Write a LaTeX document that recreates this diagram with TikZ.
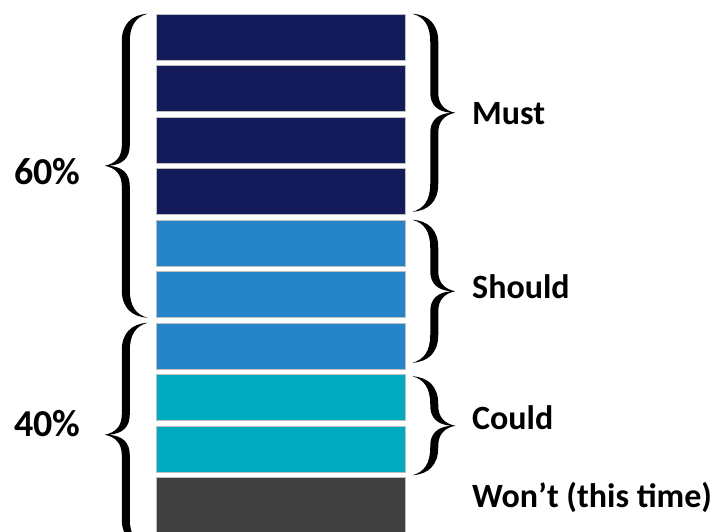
\documentclass[tikz,border=0pt]{standalone}
\usepackage{fontspec}
\setmainfont{Carlito}
\usepackage{xcolor}
\usetikzlibrary{positioning}
\definecolor{mustcol}{HTML}{131B5A}
\definecolor{shouldcol}{HTML}{2585C8}
\definecolor{couldcol}{HTML}{00AABF}
\definecolor{wontcol}{HTML}{404040}
\tikzset{
  pics/curlybrace/.style={code={
    \fill (0,0) .. controls (-16,1) and (-26,10) .. (-26,28)
      -- (-26,{#1/2-20}) .. controls (-26,{#1/2-8}) and (-33,{#1/2-2}) .. (-43,{#1/2})
      .. controls (-33,{#1/2+2}) and (-26,{#1/2+8}) .. (-26,{#1/2+20})
      -- (-26,{#1-28}) .. controls (-26,{#1-10}) and (-16,{#1-1}) .. (0,#1)
      .. controls (-12,{#1-3}) and (-18,{#1-12}) .. (-18,{#1-28})
      -- (-18,{#1/2+20}) .. controls (-18,{#1/2+8}) and (-25,{#1/2+1}) .. (-39,{#1/2})
      .. controls (-25,{#1/2-1}) and (-18,{#1/2-8}) .. (-18,{#1/2-20})
      -- (-18,28) .. controls (-18,12) and (-12,3) .. (0,0) -- cycle;
  }}
}

\begin{document}
\begin{tikzpicture}[
  x=1pt,
  y=-1pt,
  bar/.style={draw=black!25, line width=0.5pt, inner sep=0pt, minimum width=249pt, minimum height=46pt},
  lab/.style={font=\fontsize{34}{37}\selectfont\bfseries, inner sep=0pt, anchor=base west},
  pct/.style={font=\fontsize{38}{41}\selectfont\bfseries, inner sep=0pt, anchor=base west}
]
\useasboundingbox (0,0) rectangle (713,531);
% priority bars
\node[bar, fill=mustcol] (b1) at (280.5,37) {};
\node[bar, fill=mustcol] (b2) at (280.5,88.5) {};
\node[bar, fill=mustcol] (b3) at (280.5,140) {};
\node[bar, fill=mustcol] (b4) at (280.5,191.5) {};
\node[bar, fill=shouldcol] (b5) at (280.5,243) {};
\node[bar, fill=shouldcol] (b6) at (280.5,294.5) {};
\node[bar, fill=shouldcol] (b7) at (280.5,346) {};
\node[bar, fill=couldcol] (b8) at (280.5,397.5) {};
\node[bar, fill=couldcol] (b9) at (280.5,449) {};
\node[bar, fill=wontcol, minimum height=60pt] (b10) at (280.5,507.5) {};

% left braces
\pic at ([xshift=-8pt]b1.north west) {curlybrace=304};
\pic at ([xshift=-8pt]b7.north west) {curlybrace=224};
\node[pct] (p60) at (14,184) {60\%};
\node[pct] (p40) at (14,436) {40\%};

% right braces
\pic[xscale=-1] at ([xshift=7pt]b1.north east) {curlybrace=198};
\pic[xscale=-1] at ([xshift=7pt]b5.north east) {curlybrace=143};
\pic[xscale=-1] at ([xshift=7pt,yshift=-2pt]b8.north east) {curlybrace=99};
\node[lab] (must) at (472,124) {Must};
\node[lab] (should) at (472,298) {Should};
\node[lab] (could) at (472,429) {Could};
\node[lab] (wont) at (472,507) {Won’t (this time)};
\end{tikzpicture}
\end{document}
